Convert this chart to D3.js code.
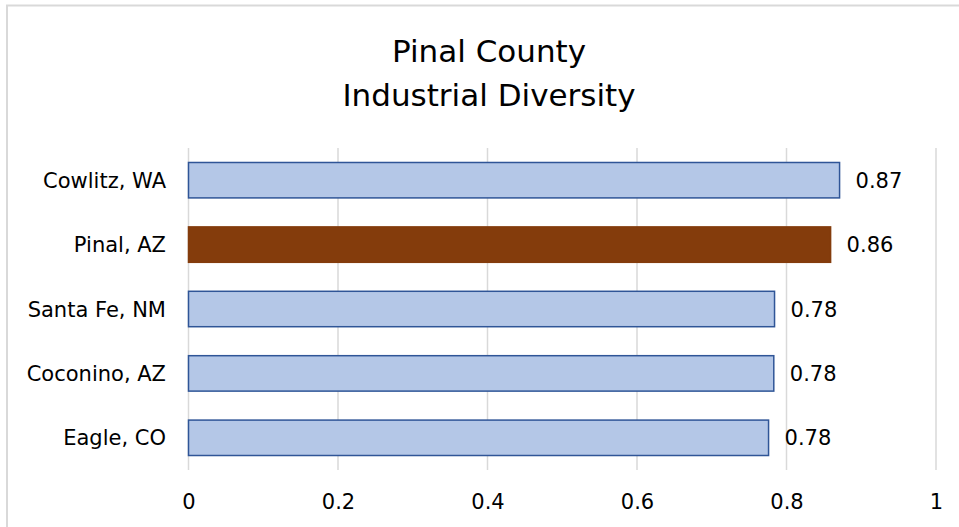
<!DOCTYPE html>
<html>
<head>
<meta charset="utf-8">
<script src="https://cdn.jsdelivr.net/npm/d3@7"></script>
<style>
  html, body { margin: 0; padding: 0; background: #fff; }
  svg { display: block; font-family: "DejaVu Sans", Tahoma, Verdana, sans-serif; }
</style>
</head>
<body>
<svg id="chart" width="959" height="527"></svg>
<script>
// Industrial diversity index by county
const counties = ["Cowlitz, WA", "Pinal, AZ", "Santa Fe, NM", "Coconino, AZ", "Eagle, CO"];
const diversity = [0.871, 0.859, 0.784, 0.783, 0.776];
const highlight = "Pinal, AZ";
const xTicks = [0, 0.2, 0.4, 0.6, 0.8, 1];
const titleLines = ["Pinal County", "Industrial Diversity"];

const rows = counties.map((c, i) => ({ county: c, value: diversity[i] }));

const svg = d3.select("#chart");
const W = 959, H = 527;
const plot = { left: 188.5, right: 936, top: 148, bottom: 470 };

// chart frame
svg.append("rect")
  .attr("x", 7).attr("y", 5.5)
  .attr("width", W + 10).attr("height", H + 10)
  .attr("fill", "#fff")
  .attr("stroke", "#d9d9d9").attr("stroke-width", 2);

const x = d3.scaleLinear().domain([0, 1]).range([plot.left, plot.right]);
const y = d3.scaleBand().domain(counties).range([plot.top, plot.bottom])
  .paddingInner(0.45).paddingOuter(0.225);

// title
svg.append("g").selectAll("text").data(titleLines).join("text")
  .attr("x", 489).attr("y", (d, i) => 62 + i * 44)
  .attr("text-anchor", "middle")
  .attr("font-size", 31).attr("fill", "#000")
  .text(d => d);

// vertical gridlines
svg.append("g").selectAll("line").data(xTicks).join("line")
  .attr("x1", d => x(d)).attr("x2", d => x(d))
  .attr("y1", plot.top).attr("y2", plot.bottom)
  .attr("stroke", "#d9d9d9").attr("stroke-width", 1.5);

// bottom axis labels
const xAxis = d3.axisBottom(x).tickValues(xTicks).tickSize(0).tickPadding(0)
  .tickFormat(d3.format("~g"));
const gx = svg.append("g").attr("transform", `translate(0,${plot.bottom})`).call(xAxis);
gx.select(".domain").remove();
gx.selectAll("text")
  .attr("dy", null).attr("y", 39)
  .attr("font-size", 21).attr("font-family", "DejaVu Sans, sans-serif").attr("fill", "#000");

// category labels
const yAxis = d3.axisLeft(y).tickSize(0).tickPadding(0);
const gy = svg.append("g").attr("transform", `translate(166,0)`).call(yAxis);
gy.select(".domain").remove();
gy.selectAll("text")
  .attr("x", 0).attr("dy", "0.36em")
  .attr("font-size", 21).attr("font-family", "DejaVu Sans, sans-serif").attr("fill", "#000");

// bars
svg.append("g").selectAll("rect").data(rows).join("rect")
  .attr("x", x(0))
  .attr("y", d => y(d.county))
  .attr("width", d => x(d.value) - x(0))
  .attr("height", y.bandwidth())
  .attr("fill", d => d.county === highlight ? "#843c0c" : "#b4c7e7")
  .attr("stroke", d => d.county === highlight ? "#843c0c" : "#2f5597")
  .attr("stroke-width", 1.5);

// value labels
svg.append("g").selectAll("text").data(rows).join("text")
  .attr("x", d => x(d.value) + 16)
  .attr("y", d => y(d.county) + y.bandwidth() / 2)
  .attr("dy", "0.36em")
  .attr("font-size", 21).attr("fill", "#000")
  .text(d => d3.format(".2f")(d.value));
</script>
</body>
</html>
